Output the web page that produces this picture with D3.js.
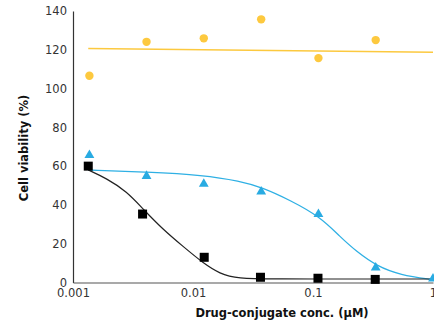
<!DOCTYPE html>
<html><head><meta charset="utf-8">
<script src="https://cdn.jsdelivr.net/npm/d3@7/dist/d3.min.js"></script>
<style>body{margin:0;background:#fff}svg{display:block}</style>
</head><body>
<svg id="chart" width="434" height="325"></svg>
<script>
// ---- data ----
const yTicks = [0, 20, 40, 60, 80, 100, 120, 140];
const xTicks = [0.001, 0.01, 0.1, 1];
const xTickLabels = ["0.001", "0.01", "0.1", "1"];

// yellow circles
const yellowDose = [0.00137, 0.0041, 0.0123, 0.037, 0.111, 0.333];
const yellowVal  = [106.6, 124.1, 125.9, 135.7, 115.7, 125.0];
const yellowFitDose = [0.00134, 1];
const yellowFitVal  = [120.7, 118.7];

// blue triangles
const blueDose = [0.00137, 0.0041, 0.0123, 0.037, 0.111, 0.333, 1];
const blueVal  = [65.7, 54.9, 50.8, 46.8, 35.2, 7.6, 2.0];
const blueFitDose = [0.00134, 0.0041, 0.0122, 0.0246, 0.0374, 0.0643, 0.1144, 0.168, 0.231, 0.340, 0.531, 1];
const blueFitVal  = [58.0, 57.0, 55.4, 52.3, 49.1, 42.5, 33.9, 23.6, 15.9, 8.5, 3.9, 1.4];

// black squares
const blackDose = [0.00134, 0.0038, 0.0124, 0.0365, 0.110, 0.330];
const blackVal  = [60.0, 35.3, 13.0, 2.7, 2.2, 1.6];
const blackFitDose = [0.00134, 0.0019, 0.0028, 0.0039, 0.0057, 0.0083, 0.0122, 0.0168, 0.0231, 0.05, 0.1, 0.3, 1];
const blackFitVal  = [58.0, 53.7, 47.0, 37.4, 27.0, 18.5, 9.9, 4.5, 2.0, 1.8, 1.8, 1.8, 1.8];

// ---- drawing ----
const svg = d3.select("#chart");
const x = d3.scaleLog().domain([0.001, 1]).range([73, 433]);
const y = d3.scaleLinear().domain([0, 140]).range([282.5, 11]);
const font = "DejaVu Sans, Verdana, sans-serif";

const zip = (a, b) => a.map((d, i) => [d, b[i]]);
const line = d3.line().x(d => x(d[0])).y(d => y(d[1])).curve(d3.curveBasis);

// axes
const yAxis = d3.axisLeft(y).tickValues(yTicks).tickSize(0).tickPadding(6).tickFormat(d3.format("d"));
const gy = svg.append("g").attr("transform", "translate(73,0)").call(yAxis);
gy.select(".domain").attr("stroke", "#333").attr("stroke-width", 1.2);
gy.selectAll("text").attr("font-family", font).attr("font-size", 11.5).attr("fill", "#333");

const xAxis = d3.axisBottom(x).tickValues(xTicks).tickSize(0).tickPadding(6)
  .tickFormat((d, i) => xTickLabels[i]);
const gx = svg.append("g").attr("transform", "translate(0,282.5)").call(xAxis);
gx.select(".domain").attr("stroke", "#555").attr("stroke-width", 1.2);
gx.selectAll("text").attr("font-family", font).attr("font-size", 11.5).attr("fill", "#333");

// fit lines
svg.append("path").datum(zip(yellowFitDose, yellowFitVal)).attr("d", line)
  .attr("fill", "none").attr("stroke", "#fcc93f").attr("stroke-width", 1.5);
svg.append("path").datum(zip(blueFitDose, blueFitVal)).attr("d", line)
  .attr("fill", "none").attr("stroke", "#2fb0e4").attr("stroke-width", 1.3);
svg.append("path").datum(zip(blackFitDose, blackFitVal)).attr("d", line)
  .attr("fill", "none").attr("stroke", "#222").attr("stroke-width", 1.2);

// markers
svg.append("g").selectAll("circle").data(zip(yellowDose, yellowVal)).join("circle")
  .attr("cx", d => x(d[0])).attr("cy", d => y(d[1])).attr("r", 4.2).attr("fill", "#fdc93f");
svg.append("g").selectAll("path").data(zip(blueDose, blueVal)).join("path")
  .attr("d", d3.symbol(d3.symbolTriangle, 42))
  .attr("transform", d => `translate(${x(d[0])},${y(d[1])})`).attr("fill", "#29abe2");
svg.append("g").selectAll("rect").data(zip(blackDose, blackVal)).join("rect")
  .attr("x", d => x(d[0]) - 4.5).attr("y", d => y(d[1]) - 4.5)
  .attr("width", 9).attr("height", 9).attr("fill", "#000");

// titles
svg.append("text").attr("x", 282).attr("y", 317).attr("text-anchor", "middle")
  .attr("font-family", font).attr("font-weight", "bold").attr("font-size", 11.5).attr("fill", "#111")
  .text("Drug-conjugate conc. (µM)");
svg.append("text").attr("transform", "translate(28,148) rotate(-90)").attr("text-anchor", "middle")
  .attr("font-family", font).attr("font-weight", "bold").attr("font-size", 11.5).attr("fill", "#111")
  .text("Cell viability (%)");
</script>
</body></html>
